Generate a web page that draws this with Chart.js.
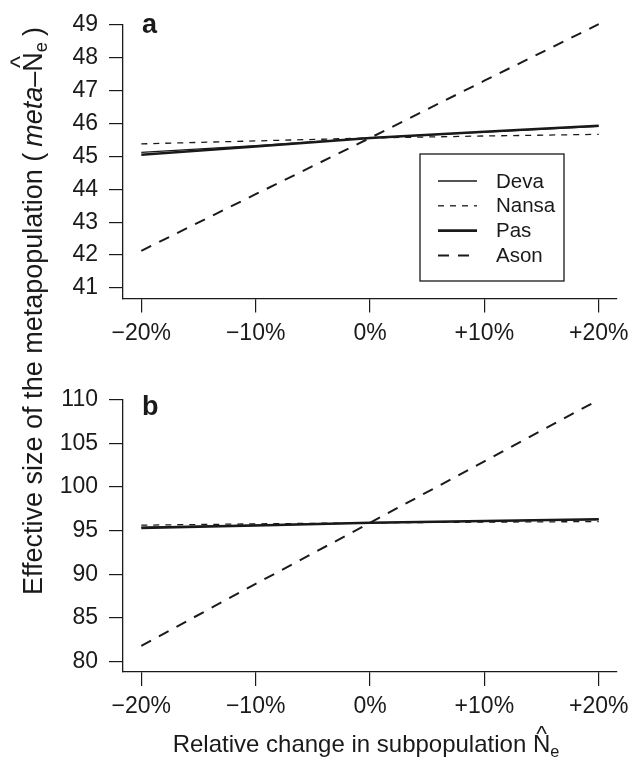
<!DOCTYPE html>
<html>
<head>
<meta charset="utf-8">
<script src="https://cdn.jsdelivr.net/npm/chart.js@4.4.1/dist/chart.umd.min.js"></script>
<style>
  html,body{margin:0;padding:0;background:#fff;}
  #wrap{position:relative;width:639px;height:766px;background:#fff;overflow:hidden;font-family:"Liberation Sans",Arial,Helvetica,sans-serif;color:#1a1a1a;}
  canvas{position:absolute;left:0;}
  #ytitle{position:absolute;white-space:nowrap;text-align:center;font-size:27px;line-height:30px;width:700px;height:30px;transform:rotate(-90deg);transform-origin:50% 50%;}
  #xtitle{position:absolute;white-space:nowrap;text-align:center;font-size:24px;line-height:28px;width:500px;}
  .hat{position:relative;display:inline-block;}
  .hat::before{content:"^";position:absolute;left:0;right:0;top:-0.5em;text-align:center;font-size:0.95em;}
  .sub{font-size:0.68em;position:relative;top:0.28em;}
  .sp{display:inline-block;width:0.22em;}
</style>
</head>
<body>
<div id="wrap">
  <canvas id="ca" width="639" height="375" style="top:0"></canvas>
  <canvas id="cb" width="639" height="391" style="top:375px"></canvas>
  <div id="ytitle">Effective size of the metapopulation (<span class="sp"></span><i>meta</i>–<span class="hat">N</span><span class="sub">e</span><span class="sp"></span>)</div>
  <div id="xtitle">Relative change in subpopulation <span class="hat">N</span><span class="sub">e</span></div>
</div>
<script>
// ---- data ----
const changes = [-20, -10, 0, 10, 20];
const changeLabels = ['\u221220%', '\u221210%', '0%', '+10%', '+20%'];
const seriesNames = ['Deva', 'Nansa', 'Pas', 'Ason'];

const devaA  = [45.12, 45.33, 45.56, 45.74, 45.91];
const nansaA = [45.38, 45.47, 45.56, 45.62, 45.67];
const pasA   = [45.05, 45.30, 45.56, 45.75, 45.93];
const asonA  = [42.13, 43.85, 45.56, 47.30, 49.02];
const yTicksA = [41, 42, 43, 44, 45, 46, 47, 48, 49];

const devaB  = [95.37, 95.62, 95.90, 96.10, 96.28];
const nansaB = [95.63, 95.78, 95.90, 95.98, 96.04];
const pasB   = [95.32, 95.60, 95.90, 96.10, 96.30];
const asonB  = [81.8, 88.9, 95.90, 102.95, 110.0];
const yTicksB = [80, 85, 90, 95, 100, 105, 110];

// ---- styling ----
const INK = '#1a1a1a';
const FONT = '"Liberation Sans", Arial, Helvetica, sans-serif';
const styles = [
  {borderWidth: 1.3, borderDash: []},
  {borderWidth: 1.3, borderDash: [6, 6]},
  {borderWidth: 2.6, borderDash: []},
  {borderWidth: 2.0, borderDash: [11, 9]}
];

function makeDatasets(arrs) {
  return arrs.map((vals, i) => ({
    label: seriesNames[i],
    data: vals.map((v, j) => ({x: changes[j], y: v})),
    borderColor: INK,
    borderWidth: styles[i].borderWidth,
    borderDash: styles[i].borderDash,
    pointRadius: 0,
    fill: false,
    tension: 0,
    clip: false
  }));
}

const panelLetter = {
  id: 'panelLetter',
  afterDraw(chart, args, opts) {
    const ctx = chart.ctx;
    ctx.save();
    ctx.fillStyle = INK;
    ctx.font = 'bold 27px ' + FONT;
    ctx.textBaseline = 'alphabetic';
    ctx.fillText(opts.text, opts.x, opts.y);
    ctx.restore();
  }
};

const boxLegend = {
  id: 'boxLegend',
  afterDraw(chart, args, opts) {
    if (!opts.show) return;
    const ctx = chart.ctx;
    ctx.save();
    ctx.strokeStyle = INK;
    ctx.lineWidth = 1.3;
    ctx.strokeRect(opts.left, opts.top, opts.width, opts.height);
    ctx.font = '20.5px ' + FONT;
    ctx.fillStyle = INK;
    ctx.textBaseline = 'middle';
    chart.data.datasets.forEach((ds, i) => {
      const y = opts.firstRow + i * opts.rowGap;
      ctx.beginPath();
      ctx.lineWidth = ds.borderWidth;
      ctx.setLineDash(ds.borderDash);
      ctx.moveTo(opts.lineX0, y);
      ctx.lineTo(opts.lineX1, y);
      ctx.stroke();
      ctx.setLineDash([]);
      ctx.fillText(ds.label, opts.textX, y + 1);
    });
    ctx.restore();
  }
};

function makeChart(id, arrs, yTicks, ymin, ymax, xHeight, letter, showLegend) {
  return new Chart(document.getElementById(id), {
    type: 'line',
    data: {datasets: makeDatasets(arrs)},
    plugins: [panelLetter, boxLegend],
    options: {
      responsive: false,
      animation: false,
      devicePixelRatio: 1,
      layout: {padding: {left: 0, right: 22, top: letter.top, bottom: 0}},
      plugins: {
        legend: {display: false},
        tooltip: {enabled: false},
        panelLetter: {text: letter.text, x: 142, y: letter.y},
        boxLegend: {show: showLegend, left: 420, top: 154, width: 144, height: 127,
          lineX0: 438, lineX1: 477, textX: 496, firstRow: 181, rowGap: 24.8}
      },
      scales: {
        x: {
          type: 'linear',
          min: -21.6, max: 21.6,
          afterBuildTicks: s => { s.ticks = changes.map(v => ({value: v})); },
          afterFit: s => { s.height = xHeight; },
          grid: {drawOnChartArea: false, drawTicks: true, tickLength: 14, color: INK, lineWidth: 1.2},
          border: {display: true, color: INK, width: 1.3},
          ticks: {
            autoSkip: false, maxRotation: 0, padding: 7, color: INK,
            font: {family: FONT, size: 23},
            callback: v => changeLabels[changes.indexOf(v)]
          }
        },
        y: {
          type: 'linear',
          min: ymin, max: ymax,
          afterBuildTicks: s => { s.ticks = yTicks.map(v => ({value: v})); },
          afterFit: s => { s.width = 123; },
          grid: {drawOnChartArea: false, drawTicks: true, tickLength: 14, color: INK, lineWidth: 1.2},
          border: {display: true, color: INK, width: 1.3},
          ticks: {padding: 11, color: INK, font: {family: FONT, size: 23}}
        }
      }
    }
  });
}

makeChart('ca', [devaA, nansaA, pasA, asonA], yTicksA, 40.68, 49, 375 - 298.5,
  {text: 'a', y: 33, top: 20}, true);
makeChart('cb', [devaB, nansaB, pasB, asonB], yTicksB, 78.8, 110, 391 - 297,
  {text: 'b', y: 415 - 375, top: 19}, false);

// titles
const yt = document.getElementById('ytitle');
const cx = 33, cy = 311;
yt.style.left = (cx - 350) + 'px';
yt.style.top = (cy - 15) + 'px';
const xt = document.getElementById('xtitle');
xt.style.left = (366 - 250) + 'px';
xt.style.top = (752 - 22) + 'px';
</script>
</body>
</html>
